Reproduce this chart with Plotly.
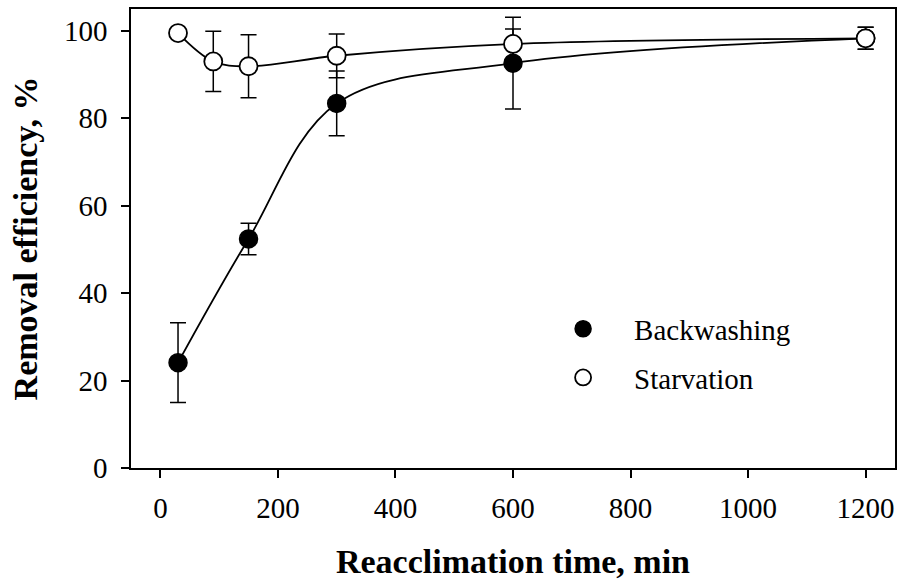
import plotly.graph_objects as go

# Reacclimation time (min) and removal efficiency (%) with standard deviations
back_time = [30, 150, 300, 600, 1200]
back_eff = [24.1, 52.4, 83.4, 92.6, 98.3]
back_err = [9.1, 3.6, 7.4, 10.5, 2.5]

starv_time = [30, 90, 150, 300, 600, 1200]
starv_eff = [99.5, 93.0, 91.9, 94.3, 97.0, 98.3]
starv_err = [0.0, 6.9, 7.2, 5.0, 3.4, 2.5]

x_ticks = [0, 200, 400, 600, 800, 1000, 1200]
y_ticks = [0, 20, 40, 60, 80, 100]

FONT = "Liberation Serif"
BLACK = "black"

fig = go.Figure()

# smooth trend curves (drawn first so markers sit on top)
fig.add_trace(go.Scatter(
    x=back_time, y=back_eff, mode="lines",
    line=dict(color=BLACK, width=1.8, shape="spline", smoothing=1.0),
    showlegend=False, hoverinfo="skip"))
fig.add_trace(go.Scatter(
    x=starv_time, y=starv_eff, mode="lines",
    line=dict(color=BLACK, width=1.8, shape="spline", smoothing=1.0),
    showlegend=False, hoverinfo="skip"))

# data points with error bars
fig.add_trace(go.Scatter(
    x=back_time, y=back_eff, mode="markers", name="Backwashing",
    marker=dict(symbol="circle", size=18, color=BLACK,
                line=dict(color=BLACK, width=1.5)),
    error_y=dict(type="data", array=back_err, visible=True,
                 color=BLACK, thickness=1.5, width=8),
    legend="legend"))
fig.add_trace(go.Scatter(
    x=starv_time, y=starv_eff, mode="markers", name="Starvation",
    marker=dict(symbol="circle", size=18, color="white",
                line=dict(color=BLACK, width=1.8)),
    error_y=dict(type="data", array=starv_err, visible=True,
                 color=BLACK, thickness=1.5, width=8),
    legend="legend2"))

axis_common = dict(
    showline=True, linecolor=BLACK, linewidth=1.5, mirror=True,
    ticks="outside", ticklen=8, tickwidth=1.5, tickcolor=BLACK,
    showgrid=False, zeroline=False,
    tickfont=dict(family=FONT, size=29, color=BLACK),
)

legend_common = dict(
    font=dict(family=FONT, size=29, color=BLACK),
    bgcolor="rgba(0,0,0,0)", borderwidth=0,
    itemwidth=92, xanchor="left", yanchor="middle",
    itemclick=False, itemdoubleclick=False,
)

fig.update_layout(
    width=904, height=584,
    margin=dict(l=131, r=7, t=7, b=116),
    paper_bgcolor="white", plot_bgcolor="white",
    xaxis=dict(
        range=[-50, 1250], tickvals=x_ticks, ticklabelstandoff=5,
        title=dict(text="<b>Reacclimation time, min</b>",
                   font=dict(family=FONT, size=34, color=BLACK), standoff=27),
        **axis_common),
    yaxis=dict(
        range=[0, 105], tickvals=y_ticks, ticklabelstandoff=8,
        title=dict(text="<b>Removal efficiency, %</b>",
                   font=dict(family=FONT, size=34, color=BLACK), standoff=16),
        **axis_common),
    legend=dict(x=0.525, y=0.303, **legend_common),
    legend2=dict(x=0.525, y=0.197, **legend_common),
)

fig.write_html("out.html")
